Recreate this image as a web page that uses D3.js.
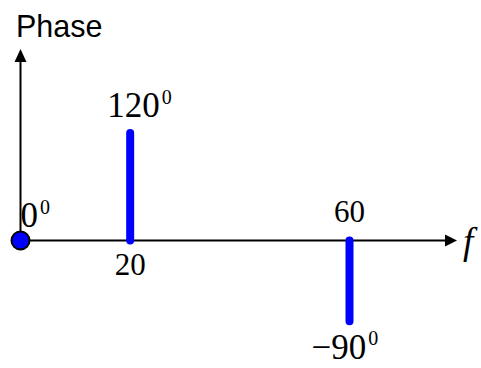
<!DOCTYPE html>
<html>
<head>
<meta charset="utf-8">
<script src="https://cdn.jsdelivr.net/npm/d3@7"></script>
<style>
  html, body { margin: 0; padding: 0; background: #fff; }
  svg { display: block; }
</style>
</head>
<body>
<svg id="chart" width="481" height="368"></svg>
<script>
// Phase spectrum: phase angle (degrees) of each frequency component
const frequencies = [0, 20, 60];
const phases = [0, 120, -90];
const phaseLabels = ["0", "120", "\u221290"];
const tickLabels = ["20", "60"];

const W = 481, H = 368;
const svg = d3.select("#chart");

const x = d3.scaleLinear().domain([0, 60]).range([20.5, 349.5]);
const y = d3.scaleLinear().domain([0, 120]).range([240.5, 133]);

const blue = "#0000ff";
const serif = "'Liberation Serif', 'Times New Roman', serif";

// axes with arrowheads
const x0 = x(0), y0 = y(0);
const xEnd = 457, yEnd = 49;
svg.append("line").attr("x1", x0).attr("y1", y0).attr("x2", xEnd - 8).attr("y2", y0)
  .attr("stroke", "#000").attr("stroke-width", 2);
svg.append("line").attr("x1", x0).attr("y1", y0).attr("x2", x0).attr("y2", yEnd + 8)
  .attr("stroke", "#000").attr("stroke-width", 2);
svg.append("path")
  .attr("d", `M${xEnd},${y0} L${xEnd - 12},${y0 - 6} L${xEnd - 12},${y0 + 6} Z`)
  .attr("fill", "#000");
svg.append("path")
  .attr("d", `M${x0},${yEnd} L${x0 - 6},${yEnd + 13} L${x0 + 6},${yEnd + 13} Z`)
  .attr("fill", "#000");

// axis titles
svg.append("text").attr("x", 16).attr("y", 37)
  .attr("font-family", "'Liberation Sans', Arial, sans-serif").attr("font-size", 30.5)
  .text("Phase");
svg.append("text").attr("x", 463).attr("y", 254)
  .attr("font-family", serif).attr("font-style", "italic").attr("font-size", 37)
  .text("f");

// spectral lines (components with non-zero frequency)
const comps = frequencies.map((f, i) => ({ f, p: phases[i], label: phaseLabels[i] }));
svg.selectAll("line.comp")
  .data(comps.filter(d => d.f !== 0))
  .join("line")
  .attr("class", "comp")
  .attr("x1", d => x(d.f)).attr("x2", d => x(d.f))
  .attr("y1", y(0)).attr("y2", d => y(d.p))
  .attr("stroke", blue).attr("stroke-width", 8).attr("stroke-linecap", "round");

// DC component drawn as a dot
svg.selectAll("circle.dc")
  .data(comps.filter(d => d.f === 0))
  .join("circle")
  .attr("class", "dc")
  .attr("cx", d => x(d.f)).attr("cy", d => y(d.p))
  .attr("r", 9).attr("fill", blue).attr("stroke", "#000").attr("stroke-width", 2);

// phase value labels with degree superscript
const labelPos = [
  { dx: 0, base: 227, size: 35, supSize: 20, supRise: 13 },
  { dx: -23, base: 117, size: 35, supSize: 20, supRise: 13 },
  { dx: -38, base: 359, size: 35, supSize: 20, supRise: 14 }
];
comps.forEach((d, i) => {
  const lp = labelPos[i];
  const t = svg.append("text")
    .attr("x", x(d.f) + lp.dx).attr("y", lp.base)
    .attr("font-family", serif).attr("font-size", lp.size);
  t.append("tspan").text(d.label);
  t.append("tspan").attr("font-size", lp.supSize).attr("dx", 2).attr("dy", -lp.supRise).text("0");
});

// frequency tick labels: below the axis for 20, above for 60
const tickFreqs = [20, 60];
const tickBase = [275, 222];
tickFreqs.forEach((f, i) => {
  svg.append("text")
    .attr("x", x(f)).attr("y", tickBase[i])
    .attr("text-anchor", "middle")
    .attr("font-family", serif).attr("font-size", 31)
    .text(tickLabels[i]);
});
</script>
</body>
</html>
